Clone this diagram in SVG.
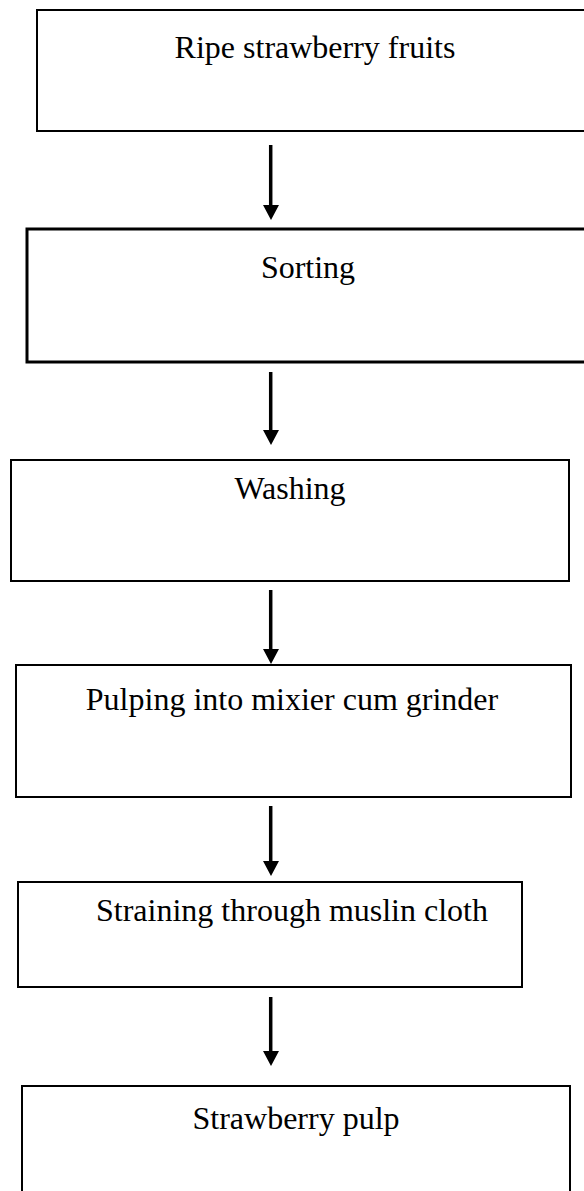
<svg xmlns="http://www.w3.org/2000/svg" width="584" height="1191" viewBox="0 0 584 1191">
<style>
.box{fill:#fff;stroke:#000;stroke-width:2}
.lbl{font-family:"Liberation Serif","Times New Roman",serif;font-size:32px;fill:#000;text-anchor:middle}
.shaft{stroke:#000;stroke-width:3.5;fill:none}
.head{fill:#000}
</style>
<rect width="584" height="1191" fill="#fff"/>
<g id="n1"><rect class="box" x="37" y="10" width="560" height="121"/><text class="lbl" x="315" y="58">Ripe strawberry fruits</text></g>
<g id="n2"><rect class="box" x="27" y="229" width="570" height="133" style="stroke-width:3"/><text class="lbl" x="308" y="278">Sorting</text></g>
<g id="n3"><rect class="box" x="11" y="460" width="558" height="121"/><text class="lbl" x="290" y="499">Washing</text></g>
<g id="n4"><rect class="box" x="16" y="665" width="555" height="132"/><text class="lbl" x="292" y="710">Pulping into mixier cum grinder</text></g>
<g id="n5"><rect class="box" x="18" y="882" width="504" height="105"/><text class="lbl" x="292" y="921">Straining through muslin cloth</text></g>
<g id="n6"><rect class="box" x="22" y="1086" width="548" height="120"/><text class="lbl" x="296" y="1129">Strawberry pulp</text></g>
<g id="connectors">
<line class="shaft" x1="270.7" y1="145" x2="270.7" y2="206"/><polygon class="head" points="263,205 279,205 271,220"/>
<line class="shaft" x1="270.7" y1="372" x2="270.7" y2="431"/><polygon class="head" points="263,430 279,430 271,445"/>
<line class="shaft" x1="270.7" y1="590" x2="270.7" y2="650"/><polygon class="head" points="263,649 279,649 271,664"/>
<line class="shaft" x1="270.7" y1="806" x2="270.7" y2="862"/><polygon class="head" points="263,861 279,861 271,876"/>
<line class="shaft" x1="270.7" y1="997" x2="270.7" y2="1052"/><polygon class="head" points="263,1051 279,1051 271,1066"/>
</g>
</svg>
